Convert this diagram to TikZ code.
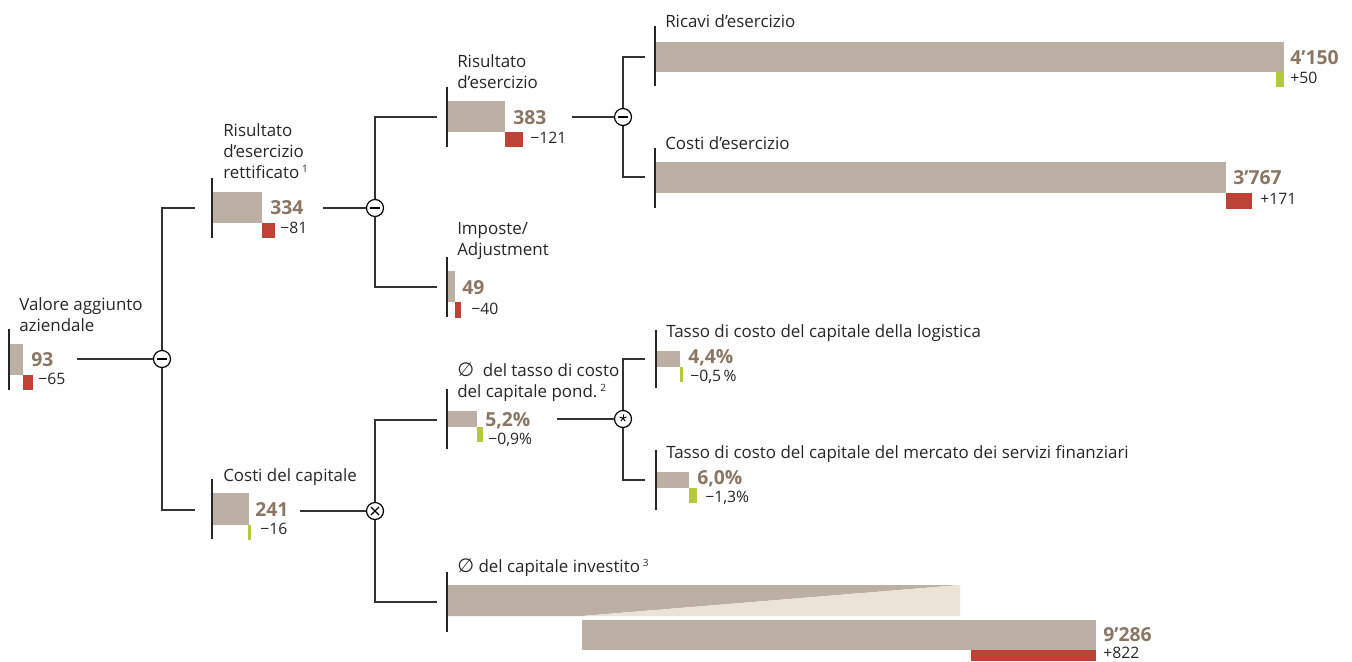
\documentclass[tikz,border=0pt]{standalone}
\usepackage{fontspec}
\setmainfont{Open Sans}
\newfontfamily\symfont{DejaVu Sans}
\usetikzlibrary{backgrounds}
\definecolor{barc}{HTML}{BCB0A4}
\definecolor{lightc}{HTML}{EBE3D6}
\definecolor{valc}{HTML}{8A7663}
\definecolor{negc}{HTML}{BE4336}
\definecolor{posc}{HTML}{B4CA3C}
\definecolor{linec}{HTML}{333333}
\newcommand{\lblfont}{\fontsize{12.7}{15.4}\selectfont}
\newcommand{\valfont}{\fontsize{14.5}{16}\selectfont\bfseries}
\newcommand{\dltfont}{\fontsize{11.8}{13}\selectfont}
\newcommand{\supn}[1]{\,\textsuperscript{\fontsize{7.5}{8}\selectfont #1}}
\newcommand{\avgsym}{{\symfont\fontsize{14.5}{15}\selectfont ∅}}
\tikzset{
  lbl/.style={anchor=base west, inner sep=0, align=left, font=\lblfont, text=black!85},
  val/.style={anchor=base west, inner sep=0, font=\valfont, text=valc},
  dlt/.style={anchor=base west, inner sep=0, font=\dltfont, text=black!85},
  bar/.style={fill=barc},
  negbar/.style={fill=negc},
  posbar/.style={fill=posc},
  axisline/.style={draw=black!85, line width=0.9pt},
  conn/.style={draw=linec, line width=0.8pt},
  op/.style={circle, draw=black, fill=white, minimum size=12.75pt, inner sep=0, line width=0.9pt},
  opmark/.style={draw=black, line width=0.9pt}
}
\begin{document}
\begin{tikzpicture}[x=0.75pt,y=-0.75pt]
\useasboundingbox (0,0) rectangle (1352,661);

% ---------- operator nodes ----------
\node[op] (op1) at (162,359) {};
\node[op] (op2) at (375,208) {};
\node[op] (op3) at (623,117) {};
\node[op] (op4) at (375,511) {};
\node[op] (op5) at (623,419) {};
% minus signs
\foreach \o in {op1,op2,op3}{
  \draw[draw=black, line width=1.6pt] ([xshift=-3.8pt]\o.center) -- ([xshift=3.8pt]\o.center);
}
% times
\draw[opmark] ([shift={(-3pt,-3pt)}]op4.center) -- ([shift={(3pt,3pt)}]op4.center);
\draw[opmark] ([shift={(-3pt,3pt)}]op4.center) -- ([shift={(3pt,-3pt)}]op4.center);
% asterisk
\foreach \a in {90,162,234,306,18}{
  \draw[draw=black, line width=0.7pt, line cap=round] ([yshift=0.6pt]op5.center) -- ++(\a:2.6pt);
}

% ---------- connector coordinates ----------
\coordinate (s1) at (77,359);
\coordinate (t1a) at (195,208);
\coordinate (t1b) at (195,510);
\coordinate (s2) at (323,208);
\coordinate (t2a) at (437,117);
\coordinate (t2b) at (437,287);
\coordinate (s3) at (572,117);
\coordinate (t3a) at (645,57);
\coordinate (t3b) at (645,177);
\coordinate (s4) at (300,511);
\coordinate (t4a) at (437,420);
\coordinate (t4b) at (437,602);
\coordinate (s5) at (557,419);
\coordinate (t5a) at (645,359);
\coordinate (t5b) at (645,480);

\begin{pgfonlayer}{background}
\draw[conn] (s1) -- (op1);
\draw[conn] (t1a) -| (op1.center) |- (t1b);
\draw[conn] (s2) -- (op2);
\draw[conn] (t2a) -| (op2.center) |- (t2b);
\draw[conn] (s3) -- (op3);
\draw[conn] (t3a) -| (op3.center) |- (t3b);
\draw[conn] (s4) -- (op4);
\draw[conn] (t4a) -| (op4.center) |- (t4b);
\draw[conn] (s5) -- (op5);
\draw[conn] (t5a) -| (op5.center) |- (t5b);
\end{pgfonlayer}

% ---------- Valore aggiunto aziendale ----------
\node[lbl] (l1) at (19,331) {Valore aggiunto\\aziendale};
\fill[bar] (9,344) rectangle (23,375);
\fill[negbar] (23,375) rectangle (33,390);
\draw[axisline] (9,329) -- (9,390);
\node[val] (v1) at (31,366) {93};
\node[dlt] (d1) at (38,384) {−65};

% ---------- Risultato d'esercizio rettificato ----------
\node[lbl] (l2) at (223,178) {Risultato\\d’esercizio\\rettificato\supn{1}};
\fill[bar] (212,192) rectangle (262,223);
\fill[negbar] (262,223) rectangle (275,238);
\draw[axisline] (212,178) -- (212,238);
\node[val] (v2) at (270,214) {334};
\node[dlt] (d2) at (280,233) {−81};

% ---------- Risultato d'esercizio ----------
\node[lbl] (l3) at (457,88) {Risultato\\d’esercizio};
\fill[bar] (447,101) rectangle (505,132);
\fill[negbar] (505,132) rectangle (523,147);
\draw[axisline] (447,87) -- (447,147);
\node[val] (v3) at (513,124) {383};
\node[dlt] (d3) at (530,143) {−121};

% ---------- Imposte/Adjustment ----------
\node[lbl] (l4) at (457,255) {Imposte/\\Adjustment};
\fill[bar] (447,271) rectangle (455,302);
\fill[negbar] (455,302) rectangle (461,318);
\draw[axisline] (447,257) -- (447,317);
\node[val] (v4) at (462,294) {49};
\node[dlt] (d4) at (471,314) {−40};

% ---------- Ricavi d'esercizio ----------
\node[lbl] (l8) at (665,27) {Ricavi d’esercizio};
\fill[bar] (655,42) rectangle (1284,72);
\fill[posbar] (1276,72) rectangle (1284,87);
\draw[axisline] (655,26) -- (655,86);
\node[val] (v8) at (1290,64) {4’150};
\node[dlt] (d8) at (1290,83) {+50};

% ---------- Costi d'esercizio ----------
\node[lbl] (l9) at (665,149) {Costi d’esercizio};
\fill[bar] (655,162) rectangle (1226,193);
\fill[negbar] (1226,193) rectangle (1252,209);
\draw[axisline] (655,148) -- (655,208);
\node[val] (v9) at (1233,184) {3’767};
\node[dlt] (d9) at (1260,204) {+171};

% ---------- Costi del capitale ----------
\node[lbl] (l5) at (223,481) {Costi del capitale};
\fill[bar] (212,493) rectangle (249,525);
\fill[posbar] (248,525) rectangle (251,540);
\draw[axisline] (212,479) -- (212,539);
\node[val] (v5) at (255,516) {241};
\node[dlt] (d5) at (260,534) {−16};

% ---------- tasso di costo del capitale pond. ----------
\node[lbl] (l6) at (457,397) {\avgsym\ \ del tasso di costo\\del capitale pond.\supn{2}};
\fill[bar] (447,411) rectangle (477,427);
\fill[posbar] (477,427) rectangle (483,442);
\draw[axisline] (447,389) -- (447,449);
\node[val] (v6) at (485,426) {5,2\%};
\node[dlt] (d6) at (488,444) {−0,9\%};

% ---------- logistica ----------
\node[lbl] (l10) at (666,337) {Tasso di costo del capitale della logistica};
\fill[bar] (656,351) rectangle (680,367);
\fill[posbar] (680,367) rectangle (683,382);
\draw[axisline] (656,330) -- (656,388);
\node[val] (v10) at (688,363) {4,4\%};
\node[dlt] (d10) at (690,381) {−0,5\,\%};

% ---------- servizi finanziari ----------
\node[lbl] (l11) at (666,458) {Tasso di costo del capitale del mercato dei servizi finanziari};
\fill[bar] (656,472) rectangle (689,488);
\fill[posbar] (689,488) rectangle (697,503);
\draw[axisline] (656,450) -- (656,510);
\node[val] (v11) at (697,484) {6,0\%};
\node[dlt] (d11) at (705,502) {−1,3\%};

% ---------- capitale investito ----------
\node[lbl] (l7) at (457,572) {\avgsym\ del capitale investito\supn{3}};
\fill[bar] (447,585) -- (960,585) -- (582,616) -- (447,616) -- cycle;
\fill[lightc] (582,616) -- (960,585) -- (960,616) -- cycle;
\fill[bar] (582,620) rectangle (1096,650);
\fill[negbar] (971,650) rectangle (1096,661);
\draw[axisline] (447,572) -- (447,632);
\node[val] (v7) at (1103,641) {9’286};
\node[dlt] (d7) at (1103,658) {+822};

\end{tikzpicture}
\end{document}
